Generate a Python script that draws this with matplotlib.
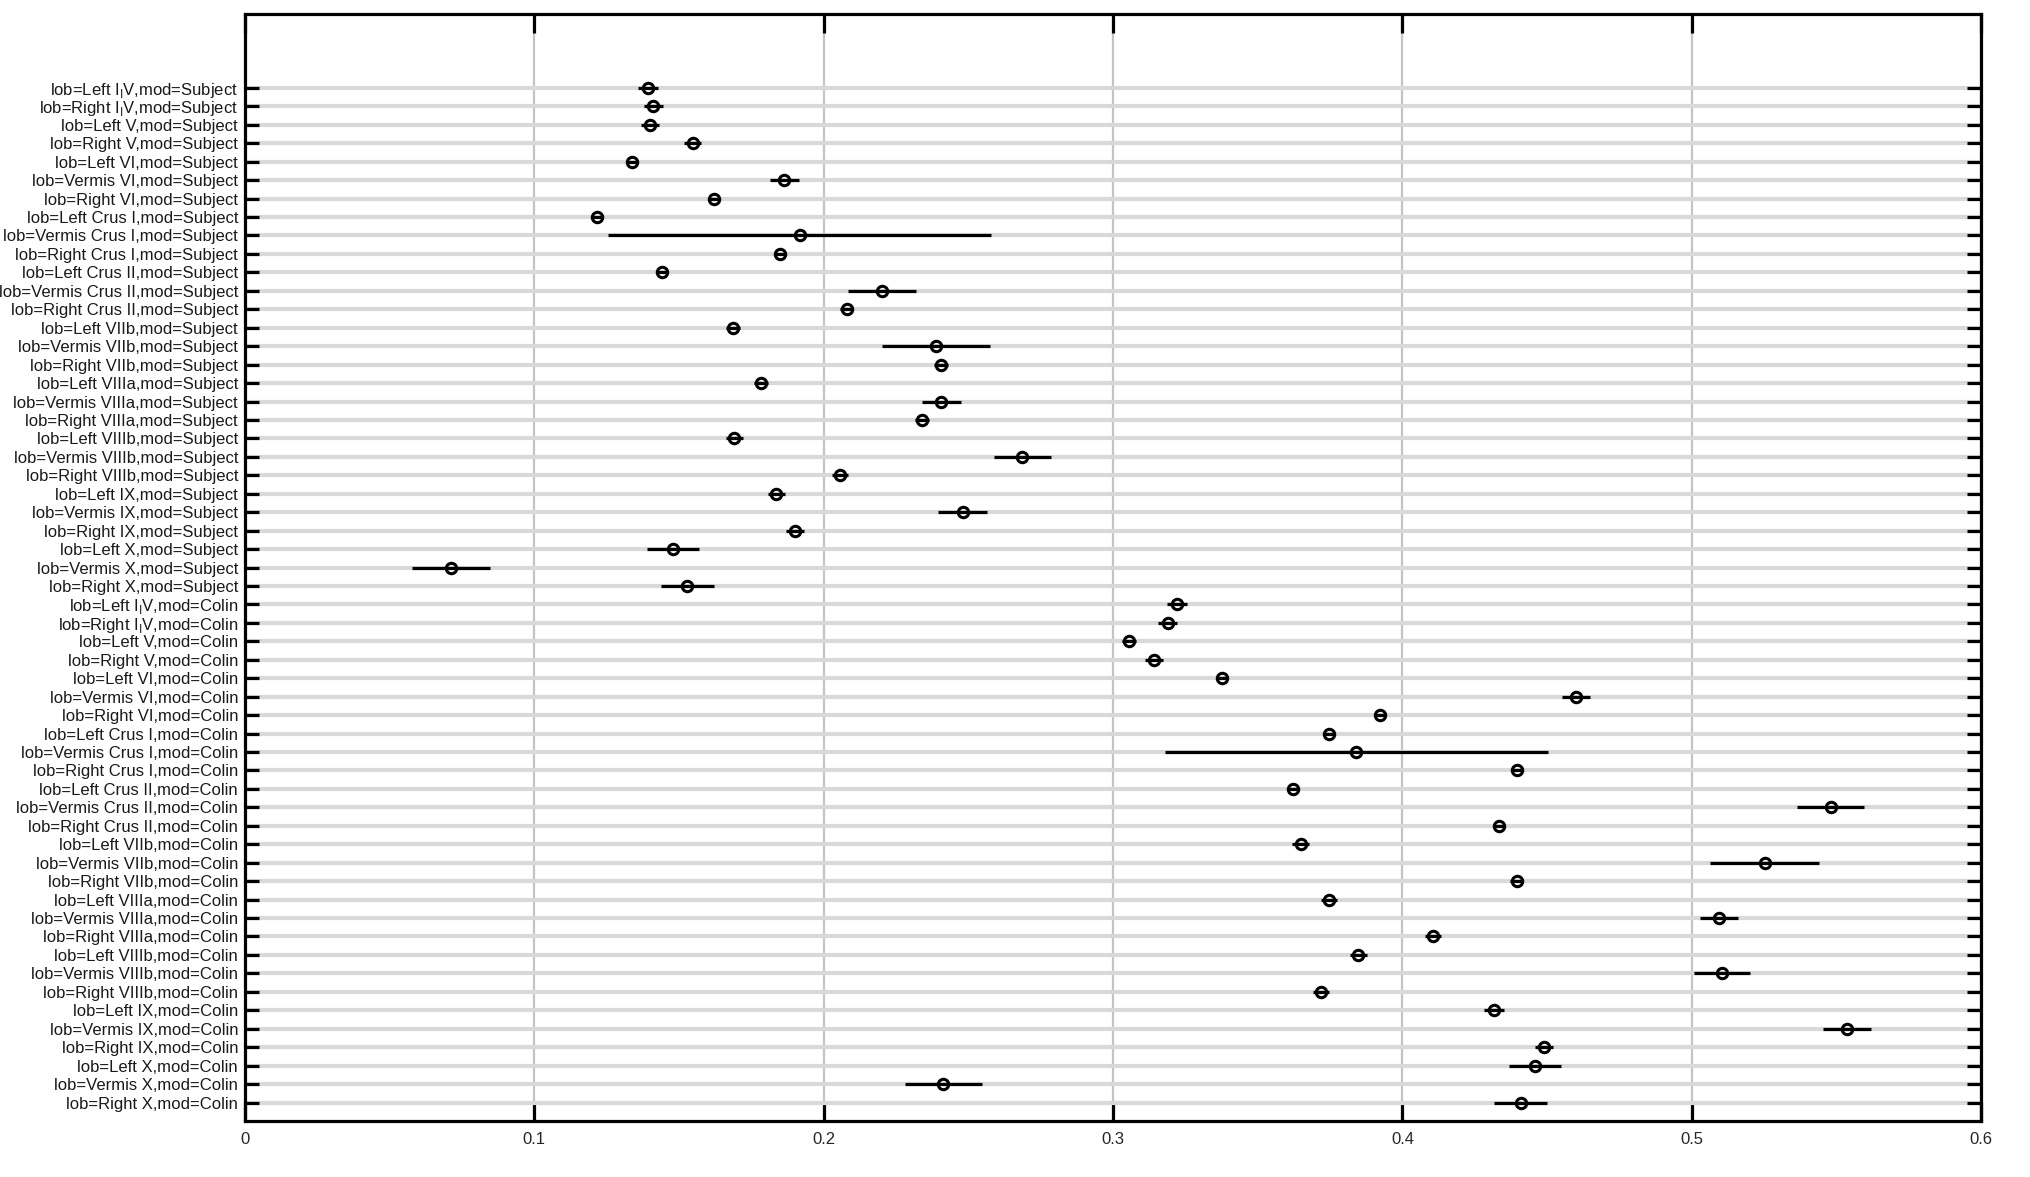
import numpy as np
import matplotlib
matplotlib.use("Agg")
import matplotlib.pyplot as plt
from matplotlib import font_manager

# narrow font is closer to the reference, fall back if it is missing
names = {f.name for f in font_manager.fontManager.ttflist}
if 'Liberation Sans Narrow' in names:
    plt.rcParams['font.family'] = ['Liberation Sans Narrow', 'DejaVu Sans']
    fsize = 14.5
else:
    plt.rcParams['font.family'] = ['Liberation Sans', 'DejaVu Sans']
    fsize = 12

lobes = ["Left I_IV", "Right I_IV", "Left V", "Right V", "Left VI", "Vermis VI", "Right VI",
         "Left Crus I", "Vermis Crus I", "Right Crus I", "Left Crus II", "Vermis Crus II",
         "Right Crus II", "Left VIIb", "Vermis VIIb", "Right VIIb", "Left VIIIa", "Vermis VIIIa",
         "Right VIIIa", "Left VIIIb", "Vermis VIIIb", "Right VIIIb", "Left IX", "Vermis IX",
         "Right IX", "Left X", "Vermis X", "Right X"]
mods = ["Subject", "Colin"]

# group means
subject_mean = [0.1393, 0.1411, 0.1400, 0.1547, 0.1337, 0.1864, 0.1621, 0.1215, 0.1917, 0.1850,
                0.1441, 0.2201, 0.2079, 0.1686, 0.2388, 0.2406, 0.1783, 0.2406, 0.2339, 0.1691,
                0.2686, 0.2055, 0.1836, 0.2480, 0.1901, 0.1480, 0.0711, 0.1529]
colin_mean = [0.3220, 0.3189, 0.3055, 0.3141, 0.3377, 0.4600, 0.3923, 0.3748, 0.3841, 0.4395,
              0.3623, 0.5480, 0.4334, 0.3648, 0.5252, 0.4395, 0.3745, 0.5093, 0.4107, 0.3848,
              0.5105, 0.3720, 0.4316, 0.5536, 0.4489, 0.4457, 0.2414, 0.4409]

# half width of the comparison interval
subject_half = [0.0035, 0.0033, 0.0030, 0.0030, 0.0020, 0.0049, 0.0020, 0.0018, 0.0661, 0.0020,
                0.0022, 0.0117, 0.0022, 0.0025, 0.0188, 0.0025, 0.0025, 0.0068, 0.0025, 0.0030,
                0.0098, 0.0028, 0.0030, 0.0086, 0.0030, 0.0089, 0.0134, 0.0092]
colin_half = [0.0034, 0.0032, 0.0025, 0.0030, 0.0020, 0.0050, 0.0020, 0.0020, 0.0662, 0.0020,
              0.0020, 0.0117, 0.0020, 0.0028, 0.0188, 0.0022, 0.0028, 0.0066, 0.0028, 0.0030,
              0.0097, 0.0028, 0.0035, 0.0084, 0.0030, 0.0090, 0.0134, 0.0091]

xticks = [0, 0.1, 0.2, 0.3, 0.4, 0.5, 0.6]


def make_label(lob, mod):
    lob = lob.replace("I_IV", r"I$_\mathregular{I}$V")
    return "lob=" + lob + ",mod=" + mod


labels = [make_label(l, m) for m in mods for l in lobes]
means = np.array(subject_mean + colin_mean)
halfs = np.array(subject_half + colin_half)
ypos = np.arange(1, len(labels) + 1)

fig = plt.figure(figsize=(20.3, 11.77), dpi=100)
ax = fig.add_axes([0.1207, 0.0476, 0.9759 - 0.1207, 0.988 - 0.0476])

ax.errorbar(means, ypos, xerr=halfs, fmt='o', color='k', ecolor='k', elinewidth=2.3,
            capsize=0, ms=7.5, mew=2.2, mfc='none', mec='k', zorder=3)

ax.set_xlim(0, 0.6)
ax.set_ylim(57, -3)
ax.set_xticks(xticks)
ax.set_xticklabels(["0", "0.1", "0.2", "0.3", "0.4", "0.5", "0.6"])
ax.set_yticks(ypos)
ax.set_yticklabels(labels)

ax.set_axisbelow(True)
ax.grid(axis='y', color='#d9d9d9', lw=3)
ax.grid(axis='x', color='#c4c4c4', lw=1.6)

ax.tick_params(axis='y', direction='in', length=10, width=2.3, left=True, right=True,
               labelsize=fsize, labelcolor='#1a1a1a', pad=5)
ax.tick_params(axis='x', direction='in', length=14, width=2.3, top=True, bottom=True,
               labelsize=fsize, labelcolor='#262626', pad=8)
for s in ax.spines.values():
    s.set_linewidth(2.3)

fig.savefig("out.png", dpi=100)
